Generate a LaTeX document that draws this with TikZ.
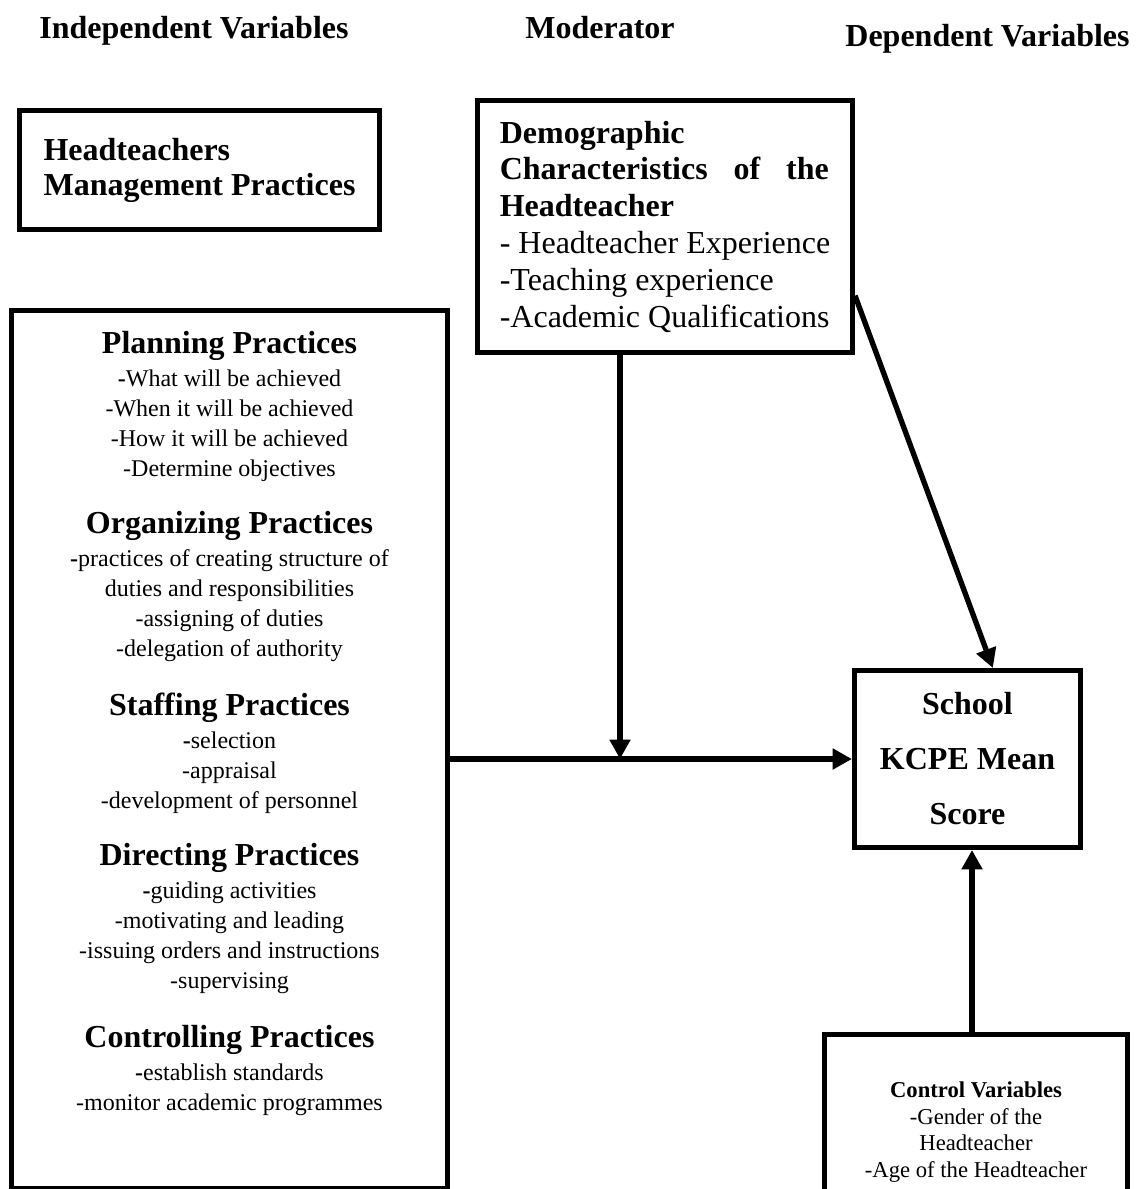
\documentclass[tikz,border=0pt]{standalone}
\usepackage{fontspec}
\setmainfont{Liberation Serif}
\usetikzlibrary{arrows.meta}

\tikzset{
  box/.style={draw,line width=4pt,inner sep=0pt},
  arr/.style={line width=4pt,-{Triangle[length=14.5pt,width=15pt]}},
  title/.style={font=\fontsize{24}{29}\selectfont\bfseries,anchor=base,inner sep=0pt},
  practice/.style={align=center,inner sep=0pt,anchor=north,font=\fontsize{18}{22.5}\selectfont},
}
\newcommand{\practicehead}[1]{{\fontsize{24}{29}\selectfont\bfseries #1}\\[2.25pt]}

\begin{document}
\begin{tikzpicture}[x=0.75pt,y=-0.75pt]
	\useasboundingbox (0,0) rectangle (1144,1189);
	\clip (0,0) rectangle (1144,1189);
	% column titles
	\node[title] (indep) at (194,38) {Independent Variables};
	\node[title] (moder) at (600,38) {Moderator};
	\node[title] (dep) at (987.5,46) {Dependent Variables};
	% boxes
	\node[box,minimum width=269.8pt,minimum height=89pt,align=left,font=\fontsize{24}{26.25}\selectfont\bfseries] (hmp) at (199.5,170) {Headteachers\\Management Practices};
	\node[box,minimum width=281pt,minimum height=188.8pt,align=left,font=\fontsize{24}{27.6}\selectfont] (demo) at (665,226.5)
		{\textbf{Demographic}\\
		 \makebox[246.75pt][s]{\bfseries Characteristics of the}\\
		 \textbf{Headteacher}\\
		 - Headteacher Experience\\
		 -Teaching experience\\
		 -Academic Qualifications};
	\node[box,minimum width=326.7pt,minimum height=658.3pt] (mgmt) at (229.5,749.6) {};
	\node[practice] (plan) at (229.5,331.3) {\practicehead{Planning Practices}\textbf{-}What will be achieved\\-When it will be achieved\\-How it will be achieved\\-Determine objectives};
	\node[practice] (org) at (229.5,511) {\practicehead{Organizing Practices}\textbf{-}practices of creating structure of\\duties and responsibilities\\-assigning of duties\\-delegation of authority};
	\node[practice] (staff) at (229.5,693) {\practicehead{Staffing Practices}\textbf{-}selection\\-appraisal\\-development of personnel};
	\node[practice] (direct) at (229.5,843) {\practicehead{Directing Practices}\textbf{-}guiding activities\\-motivating and leading\\-issuing orders and instructions\\-supervising};
	\node[practice] (contr) at (229.5,1025.3) {\practicehead{Controlling Practices}\textbf{-}establish standards\\-monitor academic programmes};
	\node[box,minimum width=169.3pt,minimum height=132.5pt,align=center,font=\fontsize{24}{41.25}\selectfont\bfseries] (kcpe) at (967.5,759) {School\\KCPE Mean\\Score};
	\node[box,minimum width=227pt,minimum height=146pt,align=center,font=\fontsize{17}{20}\selectfont] (ctrl) at (976,1132) {\textbf{Control Variables}\\-Gender of the\\Headteacher\\-Age of the Headteacher};
	% arrows
	\coordinate (meet) at (620,759);
	\draw[arr] (mgmt.east |- kcpe.west) -- (kcpe.west);
	\draw[arr] (demo.south -| meet) -- (meet);
	\draw[arr] (demo.-20) -- ([xshift=19pt]kcpe.north);
	\draw[arr] ([xshift=-3pt]ctrl.north) -- ([xshift=-3pt]ctrl.north |- kcpe.south);
\end{tikzpicture}
\end{document}
